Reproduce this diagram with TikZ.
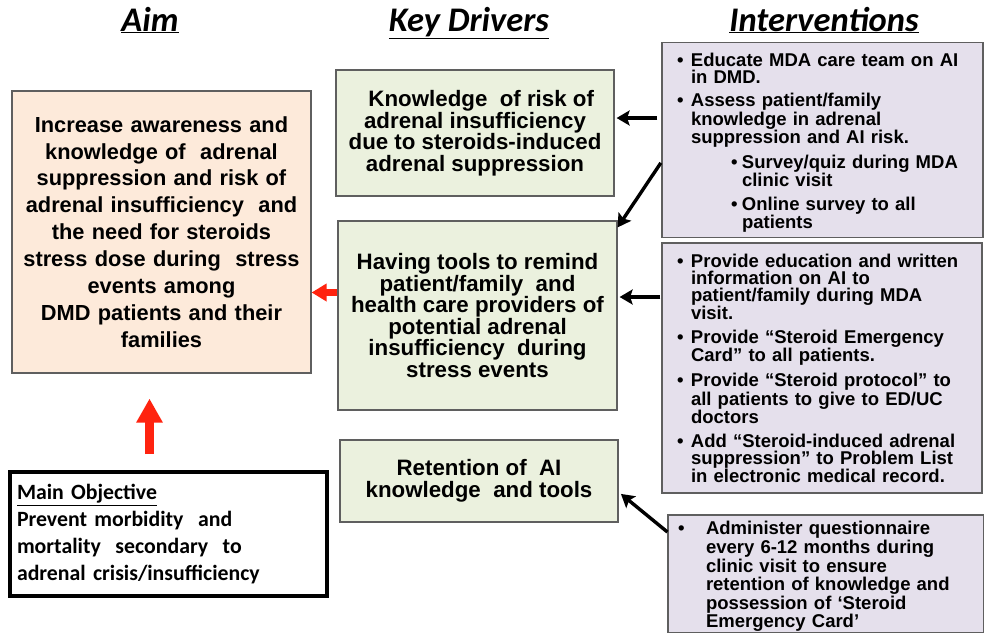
\documentclass[tikz,border=0pt]{standalone}
\usepackage{fontspec}
\setmainfont{Liberation Sans}
\newfontfamily\carf{Carlito}
\usetikzlibrary{arrows.meta}
\definecolor{aimfill}{RGB}{253,234,218}
\definecolor{kdfill}{RGB}{235,241,222}
\definecolor{intfill}{RGB}{229,224,236}
\definecolor{boxline}{RGB}{95,95,95}
\definecolor{arrred}{RGB}{255,35,15}
\newcommand\bul[3]{\par\leftskip=#1\relax\hangindent=#2\hangafter=1\noindent\makebox[#2][l]{\textbullet}#3\par}
\newcommand\nl{\newline}
\newcommand\padbottom[1]{\par\vskip #1\hrule height 0pt width 0pt}
\begin{document}
\begin{tikzpicture}[x=1pt,y=-1pt,
  title/.style={font=\carf\fontsize{34.5}{38}\selectfont\bfseries\itshape, inner sep=0pt, anchor=base},
  aimbox/.style={draw=boxline, line width=1.2pt, fill=aimfill, minimum width=299pt, minimum height=282pt, text width=295pt, align=center, inner sep=0pt, font=\fontsize{21.8}{26.9}\selectfont\bfseries},
  kdbox/.style={draw=boxline, line width=1.2pt, fill=kdfill, align=center, inner sep=0pt, font=\fontsize{22.3}{21.5}\selectfont\bfseries},
  intbox/.style={draw=boxline, line width=1.2pt, fill=intfill, align=left, inner ysep=0pt, font=\fontsize{18.5}{17}\selectfont\bfseries},
  mobox/.style={draw=black, line width=3.6pt, fill=white, minimum width=317pt, minimum height=124pt, text width=303pt, inner xsep=7pt, inner ysep=0pt, align=left, font=\carf\fontsize{21.8}{26.7}\selectfont\bfseries},
  blk/.style={draw=black, line width=3.4pt, -{Stealth[length=13pt,width=15pt,inset=2.5pt]}},
  redbig/.style={draw=arrred, line width=9pt, -{Triangle[length=24pt,width=25pt]}},
  redsmall/.style={draw=arrred, line width=6.5pt, -{Triangle[length=15pt,width=17pt]}}
]
\useasboundingbox (0,0) rectangle (984,632);
\fill[white] (0,0) rectangle (984,632);

% titles
\node[title] (t1) at (150,31) {\underline{Aim}};
\node[title] (t2) at (469,31) {\underline{Key Drivers}};
\node[title] (t3) at (824,31) {\underline{Interventions}};

% aim
\node[aimbox] (aim) at (161.5,232) {Increase awareness and\\ knowledge of\ \ adrenal\\ suppression and risk of\\ adrenal insufficiency\ \ and\\ the need for steroids\\ stress dose during\ \ stress\\ events among\\ DMD patients and their\\ families};

% main objective
\node[mobox] (mo) at (168.5,534) {\underline{Main\ Objective}\\ Prevent morbidity\ \ and\\ mortality\ \ secondary\ \ to\\ adrenal\ crisis/insufficiency};

% key drivers
\node[kdbox, minimum width=278pt, minimum height=126pt] (kd1) at (475,133) {\ \ Knowledge\ \ of risk of\\ adrenal insufficiency\\ due to steroids-induced\\ adrenal suppression};
\node[kdbox, minimum width=279pt, minimum height=189pt] (kd2) at (477.5,315.5) {Having tools to remind\\ patient/family\ \ and\\ health care providers of\\ potential adrenal\\ insufficiency\ \ during\\ stress events};
\node[kdbox, minimum width=278pt, minimum height=82pt] (kd3) at (479,481) {Retention of\ \ AI\\ knowledge\ \ and tools};

% interventions
\node[intbox, minimum width=321pt, minimum height=194pt, text width=291pt, inner xsep=15pt] (int1) at (822.5,140) {%
\setlength\parskip{6.5pt}%
\bul{0pt}{14pt}{Educate MDA care team on AI\nl in DMD.}%
\bul{0pt}{14pt}{Assess patient/family\nl knowledge in adrenal\nl suppression and AI risk.}%
\bul{54pt}{11pt}{Survey/quiz during MDA\nl clinic visit}%
\bul{54pt}{11pt}{Online survey to all\nl patients}\padbottom{5pt}};
\node[intbox, minimum width=320pt, minimum height=244pt, text width=290pt, inner xsep=15pt] (int2) at (822,368) {%
\setlength\parskip{7pt}%
\bul{0pt}{14pt}{Provide education and written\nl information on AI to\nl patient/family during MDA\nl visit.}%
\bul{0pt}{14pt}{Provide “Steroid Emergency\nl Card” to all patients.}%
\bul{0pt}{14pt}{Provide “Steroid protocol” to\nl all patients to give to ED/UC\nl doctors}%
\bul{0pt}{14pt}{Add “Steroid-induced adrenal\nl suppression” to Problem List\nl in electronic medical record.}\padbottom{10pt}};
\node[intbox, minimum width=316pt, minimum height=118pt, text width=296pt, inner xsep=10pt] (int3) at (826,574) {%
\fontsize{18.5}{18.6}\selectfont
\bul{0pt}{28pt}{Administer questionnaire\nl every 6-12 months during\nl clinic visit to ensure\nl retention of knowledge and\nl possession of ‘Steroid\nl Emergency Card’}};

% connectors
\coordinate (a1) at ([yshift=22pt]int1.west);
\draw[blk, shorten <=4pt, shorten >=2pt] (a1) -- (a1 -| kd1.east);
\draw[blk, shorten <=1pt] ([yshift=-22pt]int1.west) -- ([yshift=-7pt]kd2.north east);
\coordinate (a2) at ([yshift=71pt]int2.west);
\draw[blk, shorten <=1pt, shorten >=2pt] (a2) -- (a2 -| kd2.east);
\draw[blk, shorten >=3pt] ([yshift=42pt]int3.west) -- ([yshift=-11pt]kd3.east);

\coordinate (r1) at ([yshift=23pt]kd2.west);
\draw[redsmall] (r1) -- (r1 -| aim.east);
\draw[redbig] ([xshift=-19pt,yshift=16pt]mo.north) -- ([xshift=-12pt,yshift=-25pt]aim.south);
\end{tikzpicture}
\end{document}
